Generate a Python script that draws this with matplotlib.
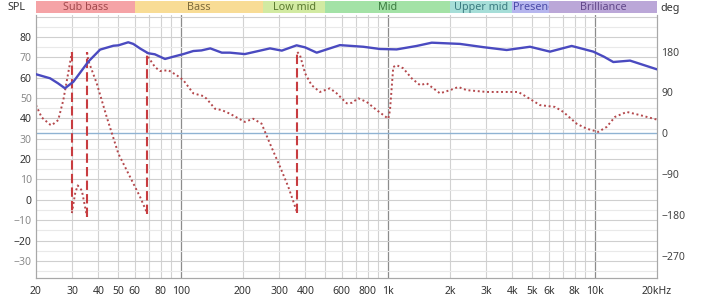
import matplotlib.pyplot as plt
import matplotlib.transforms as mtransforms
import numpy as np

# ── values ────────────────────────────────────────────────────────────────
spl_freq = [20, 23.4, 25.5, 27.6, 30.3, 35.8, 40.8, 47.3, 50, 55.8, 59, 64,
            69.7, 75, 84, 92, 103, 115, 126, 139, 158, 173, 204, 270, 308,
            363, 399, 454, 588, 762, 918, 1105, 1381, 1632, 2234, 2900, 3757,
            4871, 6083, 7741, 9848, 11090, 12300, 14810, 20000]
spl_db = [61.7, 59.7, 57.3, 54.8, 58.0, 67.9, 73.8, 75.7, 75.9, 77.4, 76.6, 74.2,
          72.0, 71.5, 69.2, 70.3, 71.6, 73.1, 73.4, 74.4, 72.3, 72.3, 71.6, 74.4, 73.3,
          75.9, 74.9, 72.3, 76.0, 75.2, 74.1, 73.9, 75.6, 77.2, 76.6, 75.0, 73.6,
          75.2, 72.8, 75.6, 72.8, 70.3, 67.7, 68.4, 64.1]

# phase, wrapped to +-180: a repeated frequency marks a wrap jump
phase_freq = [20, 21.3, 23.4, 23.8, 25.6, 27.1, 28.6, 29.8,
              29.8, 30.9, 31.8, 33.3, 34.5, 35.3,
              35.3, 35.8, 39.3, 43.9, 50, 56.9, 63.6, 69,
              69, 69.7, 75.1, 79.5, 87.1, 95.6, 103, 115, 128.6, 133.5, 146.4, 158,
              173, 204, 224, 246, 270, 302, 331, 366,
              366, 377, 399, 429, 471, 526, 567, 634, 670, 721, 792, 885, 1007,
              1026, 1064, 1105, 1190, 1306, 1433, 1544, 1661, 1789, 2000, 2194,
              2408, 3007, 4276, 4694, 5443, 6432, 7054, 8187, 9152, 10410, 11430,
              12530, 14280, 16560, 20000]
phase_deg = [62, 35, 19, 17.6, 29, 73, 132, 178,
             -176, -133, -115, -126, -162, -184,
             178, 160, 110, 36, -45, -96, -140, -177,
             179, 168, 146, 137, 139, 128, 117, 88, 82, 76, 54, 51,
             43, 25, 32, 21, -23, -74, -118, -176,
             179, 172, 132, 106, 91, 99, 88, 66, 67, 77, 69, 51, 32,
             51, 146, 150, 143, 121, 106, 110, 99, 88, 95, 102,
             95, 91, 91, 80, 62, 58, 47, 21, 10, 3, 14,
             36, 47, 40, 30]

band_names = ["Sub bass", "Bass", "Low mid", "Mid", "Upper mid", "Presence", "Brilliance"]
band_edges = [20, 60, 250, 500, 2000, 4000, 6000, 20000]
band_fill = ["#f5a3a6", "#f8dc95", "#d2eaa2", "#a3e2a6", "#a6ded8", "#b6b6ee", "#bba7d8"]
band_ink = ["#a34a4e", "#7d6b3c", "#5b7a30", "#3c7b40", "#3b7b80", "#4a4aa8", "#62488a"]

xtick_freq = [20, 30, 40, 50, 60, 80, 100, 200, 300, 400, 600, 800, 1000,
              2000, 3000, 4000, 5000, 6000, 8000, 10000, 20000]
xtick_labels = ["20", "30", "40", "50", "60", "80", "100", "200", "300", "400",
                "600", "800", "1k", "2k", "3k", "4k", "5k", "6k", "8k", "10k", "20kHz"]
spl_ticks = list(range(-30, 81, 10))
phase_ticks = [-270, -180, -90, 0, 90, 180]

SPL_LIM = (-38.4, 90.8)
DEG_LIM = (-319, 260.6)

plt.rcParams["font.family"] = ["Noto Sans", "DejaVu Sans"]

fig = plt.figure(figsize=(7.04, 3.0), dpi=100)
ax2 = fig.add_axes([36 / 704, 22 / 300, 621 / 704, 263 / 300])   # phase, underneath
ax = ax2.twinx()                                                    # SPL on top
ax.set_zorder(ax2.get_zorder() + 1)
ax.patch.set_visible(False)

for a in (ax, ax2):
    a.set_xscale("log")
    a.set_xlim(20, 20000)
    for s in a.spines.values():
        s.set_color("#a8a8a8")
        s.set_linewidth(0.8)
    a.spines["top"].set_visible(False)

ax2.set_ylim(*DEG_LIM)
ax.set_ylim(*SPL_LIM)

# ── grid (all on the lower axes so it stays under the traces) ─────────────
minor_f = [m * d for d in (10, 100, 1000) for m in range(2, 10)]
for f in minor_f:
    if f > 20:
        ax2.axvline(f, color="#d2d2d2", lw=0.8, zorder=0)
for f in (100, 1000, 10000):
    ax2.axvline(f, color="#8c8c8c", lw=0.9, zorder=0)

spl_rows = mtransforms.blended_transform_factory(ax2.transAxes, ax.transData)
for v in range(-35, 91, 5):
    ax2.plot([0, 1], [v, v], transform=spl_rows, lw=0.8, zorder=0,
             color="#cfcfcf" if v % 10 == 0 else "#e9e9e9")
ax2.axhline(0, color="#8fb3d3", lw=1.0, zorder=1)

# ── phase: dotted trace, dashed wrap jumps ────────────────────────────────
pf = np.array(phase_freq, float)
pd_ = np.array(phase_deg, float)
jumps = np.where(np.abs(np.diff(pd_)) > 180)[0]
starts = np.r_[0, jumps + 1]
ends = np.r_[jumps, len(pf) - 1]
for s, e in zip(starts, ends):
    ax2.plot(pf[s:e + 1], pd_[s:e + 1], color="#b4484c", lw=1.4,
             linestyle=(0, (1, 1.4)), zorder=3)
for j in jumps:
    ax2.plot(pf[j:j + 2], pd_[j:j + 2], color="#c83c40", lw=1.5,
             linestyle=(0, (4.5, 2)), zorder=4)

# ── SPL ───────────────────────────────────────────────────────────────────
ax.plot(spl_freq, spl_db, color="#4a4ac0", lw=1.7, zorder=5, solid_capstyle="round")

# ── ticks ─────────────────────────────────────────────────────────────────
ax2.set_xticks(xtick_freq)
ax2.set_xticklabels(xtick_labels)
ax2.set_xticks([], minor=True)
ax.set_xticks([], minor=True)
ax2.tick_params(axis="x", length=0, pad=6, labelsize=7.5, labelcolor="#333333")

# left side shows SPL, right side shows phase
ax2.yaxis.tick_right()
ax2.set_yticks(phase_ticks)
ax2.tick_params(axis="y", length=0, pad=3, labelsize=7.5, labelcolor="#444444")
ax.yaxis.tick_left()
ax.set_yticks(spl_ticks)
ax.tick_params(axis="y", length=0, pad=3, labelsize=7.5)
for lab, v in zip(ax.get_yticklabels(), spl_ticks):
    lab.set_color("#333333" if v % 20 == 0 else "#8a8a8a")
ax.tick_params(axis="x", length=0, labelbottom=False)

# ── band bar ──────────────────────────────────────────────────────────────
axb = fig.add_axes([36 / 704, 287 / 300, 621 / 704, 12 / 300])
axb.set_xscale("log")
axb.set_xlim(20, 20000)
axb.set_ylim(0, 1)
axb.axis("off")
fig.canvas.draw()
renderer = fig.canvas.get_renderer()
for name, lo, hi, fc, ink in zip(band_names, band_edges[:-1], band_edges[1:], band_fill, band_ink):
    patch = axb.axvspan(lo, hi, color=fc, lw=0)
    t = axb.text(np.sqrt(lo * hi), 0.45, name, ha="center", va="center",
                 fontsize=7.8, color=ink, clip_on=True)
    t.set_clip_path(patch)
    x0 = axb.transData.transform((lo, 0))[0]
    x1 = axb.transData.transform((hi, 0))[0]
    if t.get_window_extent(renderer).width > x1 - x0:
        t.set_ha("left")
        t.set_x(lo * 1.005)

fig.text(17 / 704, 1 - 8 / 300, "SPL", ha="center", va="center",
         fontsize=7.8, fontweight="bold", color="#333333")
fig.text(660 / 704, 1 - 8 / 300, "deg", ha="left", va="center",
         fontsize=7.8, fontweight="bold", color="#333333")

fig.savefig("out.png", dpi=100)
